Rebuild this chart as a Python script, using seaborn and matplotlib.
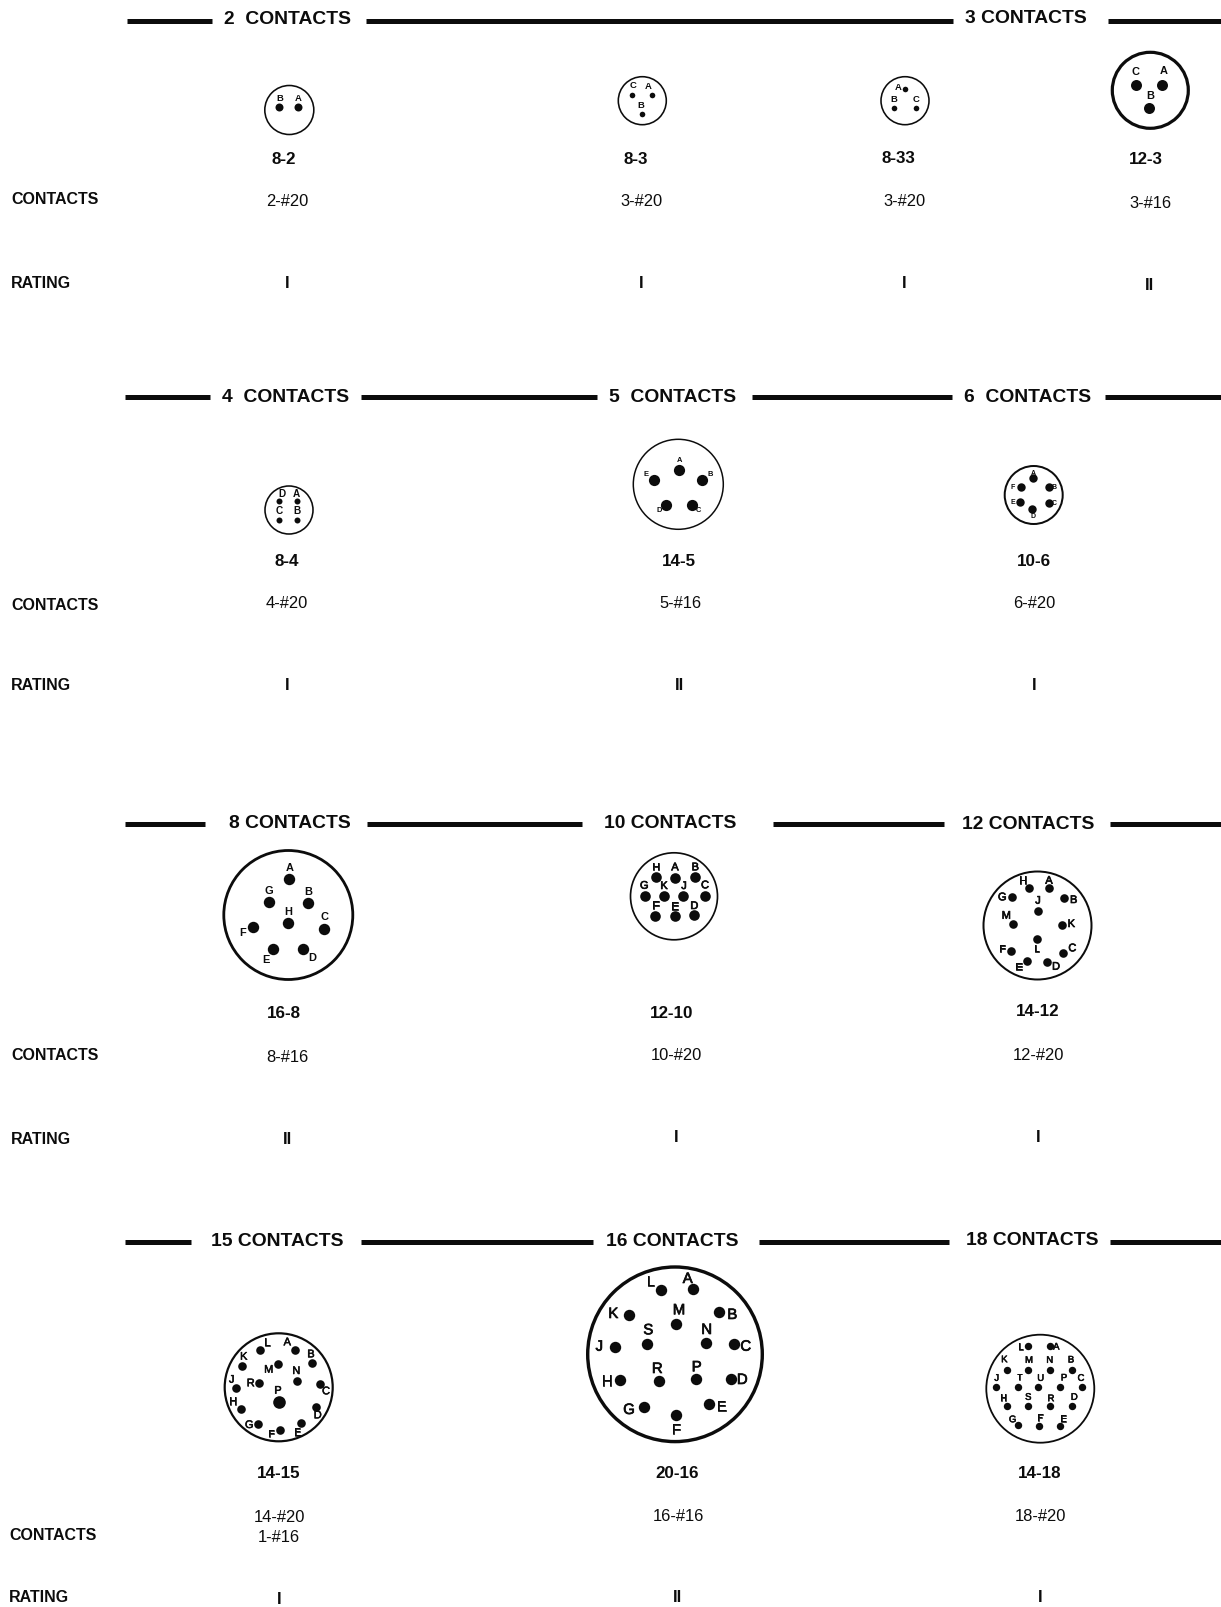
# Connector insert arrangements chart
import pandas as pd
import matplotlib
matplotlib.use("Agg")
import matplotlib.pyplot as plt
import matplotlib.patheffects as pe
import seaborn as sns

# Contact positions (sheet pixels), plus letter positions

# 2 contacts
pins_8_2 = ["B", "A"]
x_8_2 = [279.3, 298.3]
y_8_2 = [107, 107]
lx_8_2 = [280, 298.3]
ly_8_2 = [98.3, 98.3]

# 3 contacts
pins_8_3 = ["C", "A", "B"]
x_8_3 = [632, 652.3, 641.7]
y_8_3 = [95, 94.7, 113.7]
lx_8_3 = [632.7, 648.7, 641]
ly_8_3 = [86, 86.7, 105]

pins_8_33 = ["A", "B", "C"]
x_8_33 = [905.3, 894, 915.7]
y_8_33 = [88.7, 108.3, 108.3]
lx_8_33 = [898.7, 894, 915.7]
ly_8_33 = [87, 99.3, 100]

pins_12_3 = ["C", "A", "B"]
x_12_3 = [1136.3, 1162.3, 1148.7]
y_12_3 = [85, 85, 108.3]
lx_12_3 = [1136, 1163.7, 1150]
ly_12_3 = [71.7, 71.3, 96]

# 4, 5, 6 contacts
pins_8_4 = ["D", "A", "C", "B"]
x_8_4 = [279.3, 297.3, 278.7, 297]
y_8_4 = [501.3, 501, 520, 520]
lx_8_4 = [281.7, 296.7, 279.3, 297.3]
ly_8_4 = [494, 494, 511.3, 511.3]

pins_14_5 = ["A", "B", "E", "D", "C"]
x_14_5 = [678.7, 702, 654.3, 665.7, 691.7]
y_14_5 = [470, 480.3, 479.7, 504.7, 504.7]
lx_14_5 = [679.3, 709.7, 645.7, 658.7, 698.7]
ly_14_5 = [460.3, 475, 474, 510.3, 511]

pins_10_6 = ["A", "B", "C", "D", "E", "F"]
x_10_6 = [1033, 1049.3, 1049.3, 1032.3, 1019.7, 1021.3]
y_10_6 = [478, 487, 502.7, 509.3, 501.7, 487]
lx_10_6 = [1033, 1054.3, 1054, 1033, 1013.3, 1013]
ly_10_6 = [473.5, 487.7, 503.3, 516.7, 502.7, 487.7]

# 8, 10, 12 contacts
pins_16_8 = ["A", "B", "C", "D", "E", "F", "G", "H"]
x_16_8 = [289.3, 308, 324, 302.7, 272.7, 253.3, 268.7, 288.3]
y_16_8 = [879.3, 903, 928.7, 949, 949, 926.7, 902.3, 923.3]
lx_16_8 = [290, 308, 324.3, 312.7, 265.7, 243, 268.7, 288.3]
ly_16_8 = [868, 891.7, 917.3, 958.3, 960.3, 933.3, 891, 912]

pins_12_10 = ["H", "A", "B", "G", "K", "J", "C", "F", "E", "D"]
x_12_10 = [655.7, 675, 695.3, 645, 664, 683, 705, 655, 675, 694]
y_12_10 = [877.3, 878.3, 877, 895.7, 895.7, 895.7, 895.7, 916, 916, 915.3]
lx_12_10 = [655.7, 675, 695.3, 644.3, 664, 684, 705, 655.7, 675, 694.3]
ly_12_10 = [867.3, 867.3, 867.3, 885.7, 886, 886, 885.3, 905.7, 906.7, 906]

pins_14_12 = ["H", "A", "G", "B", "J", "M", "K", "L", "F", "C", "E", "D"]
x_14_12 = [1029.3, 1049, 1011.7, 1064.3, 1037.7, 1013, 1062.3, 1036.7, 1010.7, 1063.3, 1027, 1047]
y_14_12 = [887.7, 888, 897.3, 898.3, 910.7, 924.3, 924.7, 939.3, 951, 953, 961, 962]
lx_14_12 = [1022.7, 1049, 1002.3, 1073.7, 1038, 1006.3, 1071.3, 1036.7, 1002, 1072.3, 1019, 1056]
ly_14_12 = [881, 880.7, 897.3, 900, 900.7, 915.7, 924, 949.3, 949.3, 948.3, 967.3, 966.7]

# 15, 16, 18 contacts
pins_14_15 = ["L", "A", "K", "B", "M", "R", "N", "C", "J", "H", "D", "G", "F", "E"]
x_14_15 = [260, 295, 242.3, 312.3, 278, 259.3, 296.7, 320, 236, 241, 316, 258, 279.7, 300.7]
y_14_15 = [1350, 1349.7, 1365.7, 1363.3, 1363.7, 1382.7, 1380.7, 1384.3, 1387.7, 1408.7, 1406.7, 1424, 1430, 1422.7]
lx_14_15 = [267.3, 287.3, 243.7, 311, 268.7, 250.7, 296.3, 326, 231.7, 233, 317.7, 249.3, 271.3, 297.3]
ly_14_15 = [1342.7, 1342.3, 1356.7, 1354.3, 1369.7, 1383.3, 1371, 1391.3, 1379.7, 1401.7, 1415.3, 1425, 1434.3, 1432.7]
# the one #16 contact in the 14-15 insert
pins_14_15_big = ["P"]
x_14_15_big = [278.7]
y_14_15_big = [1402.3]
lx_14_15_big = [278]
ly_14_15_big = [1390.7]

pins_20_16 = ["L", "A", "K", "B", "M", "S", "N", "J", "C", "H", "R", "P", "D", "G", "E", "F"]
x_20_16 = [660.7, 692.7, 629, 719.3, 676, 646.7, 706, 615, 734.3, 620, 659, 695.7, 730.7, 643.7, 709.3, 676.3]
y_20_16 = [1290, 1289.3, 1314.7, 1312, 1324, 1344, 1343.3, 1347, 1343.7, 1380.3, 1381, 1379, 1378.7, 1407.3, 1404.3, 1415]
lx_20_16 = [650.7, 687.7, 613.3, 732.3, 679, 648.3, 706.7, 599.3, 745.7, 607.3, 657.3, 696.7, 742.3, 629, 721.3, 676.3]
ly_20_16 = [1282.3, 1279, 1314, 1315, 1310.3, 1330.3, 1330, 1346.7, 1346.7, 1381.7, 1369, 1367.3, 1380, 1410, 1407, 1430]

pins_14_18 = ["L", "A", "K", "M", "N", "B", "J", "T", "U", "P", "C", "H", "S", "R", "D", "G", "F", "E"]
x_14_18 = [1028.3, 1049.7, 1007.3, 1028.3, 1049.7, 1071.7, 995.7, 1017.7, 1038.3, 1060.3, 1081.7, 1006.7, 1027.7, 1050, 1071.7, 1017.7, 1039, 1059.7]
y_14_18 = [1345.7, 1346, 1369.7, 1369.7, 1369.7, 1369.7, 1387, 1387.3, 1387, 1387, 1387.3, 1406.3, 1406.3, 1406.3, 1406.3, 1425, 1425.7, 1425.7]
lx_14_18 = [1020.7, 1056.3, 1004.3, 1029, 1049.7, 1071, 996.7, 1019.7, 1040.7, 1064, 1081, 1003.3, 1028.3, 1051, 1074.3, 1012.7, 1040, 1063.3]
ly_14_18 = [1347, 1347, 1359.7, 1360.3, 1360.3, 1360, 1378.3, 1377.7, 1378.3, 1378, 1378.3, 1398.3, 1397.3, 1398.7, 1397.3, 1419.7, 1418.3, 1419]

# Text of the sheet
headers = ["2  CONTACTS", "3 CONTACTS", "4  CONTACTS", "5  CONTACTS", "6  CONTACTS",
           "8 CONTACTS", "10 CONTACTS", "12 CONTACTS",
           "15 CONTACTS", "16 CONTACTS", "18 CONTACTS"]
insert_names = ["8-2", "8-3", "8-33", "12-3", "8-4", "14-5", "10-6",
                "16-8", "12-10", "14-12", "14-15", "20-16", "14-18"]
contact_text = ["2-#20", "3-#20", "3-#20", "3-#16", "4-#20", "5-#16", "6-#20",
                "8-#16", "10-#20", "12-#20", "14-#20\n1-#16", "16-#16", "18-#20"]
rating_text = ["I", "I", "I", "II", "I", "II", "I", "II", "I", "I", "I", "II", "I"]

# Layout only, everything in sheet pixels
W, H = 1221, 1607
PX = 0.72  # one pixel in points at dpi 100

header_x = [287.5, 1026, 286, 673, 1028, 289.5, 670, 1028.5, 277, 672, 1032]
header_y = [19.5, 18.5, 398, 397, 398, 823.5, 823, 824.5, 1241, 1242, 1240.5]
rule_y = [21, 397, 824, 1241.5]
rules = [[(127, 212), (366, 953), (1108, 1221)],
         [(125, 210), (361, 597), (752, 952), (1105, 1221)],
         [(125, 205), (367, 582), (773, 944), (1110, 1221)],
         [(125, 191), (361, 593), (759, 949), (1110, 1221)]]

name_x = [284, 636, 898, 1146, 287, 679, 1034, 284, 672, 1038, 279, 677, 1040]
name_y = [159, 159, 158.5, 160, 561, 561, 561, 1014, 1013, 1012, 1473.7, 1473, 1473]
contact_x = [287.5, 641, 904, 1150, 287, 680, 1034, 287, 676, 1038, 279, 678, 1040]
contact_y = [202, 202, 202, 203.5, 604, 604, 604, 1057, 1055, 1055, 1527.5, 1516.5, 1516.5]
rating_x = [287.5, 641, 904, 1150, 287, 680, 1034, 287, 676, 1038, 279, 677, 1040]
rating_y = [284, 284, 284, 285, 686, 686, 686, 1140, 1137, 1137, 1599, 1598, 1598]
side_contacts_x = [11, 11, 11, 9]
side_contacts_y = [199, 606, 1055, 1535.5]
side_rating_y = [284, 685.5, 1140, 1597]

# circle x, y, radius, line px, pin radius px, letter px, letter weight, letter stroke
inserts = [
    (289.3, 110, 24.5, 1.6, 4, 9.5, "bold", 0, pins_8_2, x_8_2, y_8_2, lx_8_2, ly_8_2),
    (642.3, 100.7, 24, 1.6, 2.8, 9.5, "bold", 0, pins_8_3, x_8_3, y_8_3, lx_8_3, ly_8_3),
    (905, 100.7, 24, 1.6, 2.8, 9.5, "bold", 0, pins_8_33, x_8_33, y_8_33, lx_8_33, ly_8_33),
    (1150.3, 90.3, 38, 3.2, 5.5, 11, "bold", 0, pins_12_3, x_12_3, y_12_3, lx_12_3, ly_12_3),
    (289, 510, 24, 1.6, 3, 10, "bold", 0, pins_8_4, x_8_4, y_8_4, lx_8_4, ly_8_4),
    (678.3, 484.3, 45, 1.5, 5.6, 7.5, "bold", 0, pins_14_5, x_14_5, y_14_5, lx_14_5, ly_14_5),
    (1033.7, 495, 29, 2, 4.2, 7, "bold", 0, pins_10_6, x_10_6, y_10_6, lx_10_6, ly_10_6),
    (288.3, 915, 64.5, 2.8, 5.7, 11, "bold", 0, pins_16_8, x_16_8, y_16_8, lx_16_8, ly_16_8),
    (674, 896.3, 43.5, 1.7, 5.3, 11, "normal", 0.5, pins_12_10, x_12_10, y_12_10, lx_12_10, ly_12_10),
    (1037.5, 925.5, 54, 2, 4.3, 11, "normal", 0.5, pins_14_12, x_14_12, y_14_12, lx_14_12, ly_14_12),
    (278.7, 1387.3, 54, 2.2, 4.3, 11, "normal", 0.4, pins_14_15, x_14_15, y_14_15, lx_14_15, ly_14_15),
    (675, 1354.3, 87.3, 3.4, 5.7, 15, "normal", 0.5, pins_20_16, x_20_16, y_20_16, lx_20_16, ly_20_16),
    (1040.3, 1388.7, 54, 1.8, 3.7, 9.5, "normal", 0.4, pins_14_18, x_14_18, y_14_18, lx_14_18, ly_14_18),
]

sns.set_theme(style="white")
plt.rcParams["font.family"] = ["Liberation Sans", "DejaVu Sans"]
INK = "#0c0c0c"

fig = plt.figure(figsize=(W / 100, H / 100), dpi=100, facecolor="white")
ax = fig.add_axes([0, 0, 1, 1])


def draw_pins(names, xs, ys, lxs, lys, radius, letter_px, weight, stroke):
    pins = pd.DataFrame({"x": xs, "y": ys})
    sns.scatterplot(data=pins, x="x", y="y", ax=ax, color=INK, linewidth=0,
                    s=(2 * radius * PX) ** 2, legend=False, zorder=3)
    for name, lx, ly in zip(names, lxs, lys):
        t = ax.text(lx, ly, name, ha="center", va="center", fontsize=letter_px * PX,
                    fontweight=weight, color=INK, zorder=4)
        if stroke:
            # the scanned letters are a bit heavier than the regular face
            t.set_path_effects([pe.withStroke(linewidth=stroke, foreground=INK)])


# Connector faces
for cx, cy, r, line, pin_r, letter, weight, stroke, names, xs, ys, lxs, lys in inserts:
    ax.add_patch(plt.Circle((cx, cy), r, fill=False, ec=INK, lw=line * PX, zorder=2))
    draw_pins(names, xs, ys, lxs, lys, pin_r, letter, weight, stroke)
draw_pins(pins_14_15_big, x_14_15_big, y_14_15_big, lx_14_15_big, ly_14_15_big,
          6.3, 11, "normal", 0.4)

# Rules and section headers
for y, segments in zip(rule_y, rules):
    for x0, x1 in segments:
        ax.plot([x0, x1], [y, y], color=INK, lw=5 * PX, solid_capstyle="butt")
for text, x, y in zip(headers, header_x, header_y):
    ax.text(x, y, text, ha="center", va="center", fontsize=19.3 * PX,
            fontweight="bold", color=INK)

# Insert name, contact count and rating under each face
for text, x, y in zip(insert_names, name_x, name_y):
    ax.text(x, y, text, ha="center", va="center", fontsize=17 * PX,
            fontweight="bold", color=INK)
for text, x, y in zip(contact_text, contact_x, contact_y):
    ax.text(x, y, text, ha="center", va="center", fontsize=16.5 * PX,
            color=INK, linespacing=1.47)
for text, x, y in zip(rating_text, rating_x, rating_y):
    ax.text(x, y, text, ha="center", va="center", fontsize=16.5 * PX,
            fontweight="bold", color=INK)

# Row captions on the left
for x, y in zip(side_contacts_x, side_contacts_y):
    ax.text(x, y, "CONTACTS", ha="left", va="center", fontsize=16 * PX,
            fontweight="bold", color=INK)
for x, y in zip(side_contacts_x, side_rating_y):
    ax.text(x, y, "RATING", ha="left", va="center", fontsize=16 * PX,
            fontweight="bold", color=INK)

ax.set_xlim(0, W)
ax.set_ylim(H, 0)
ax.set_aspect("equal")
ax.axis("off")

fig.savefig("out.png", dpi=100, facecolor="white")
